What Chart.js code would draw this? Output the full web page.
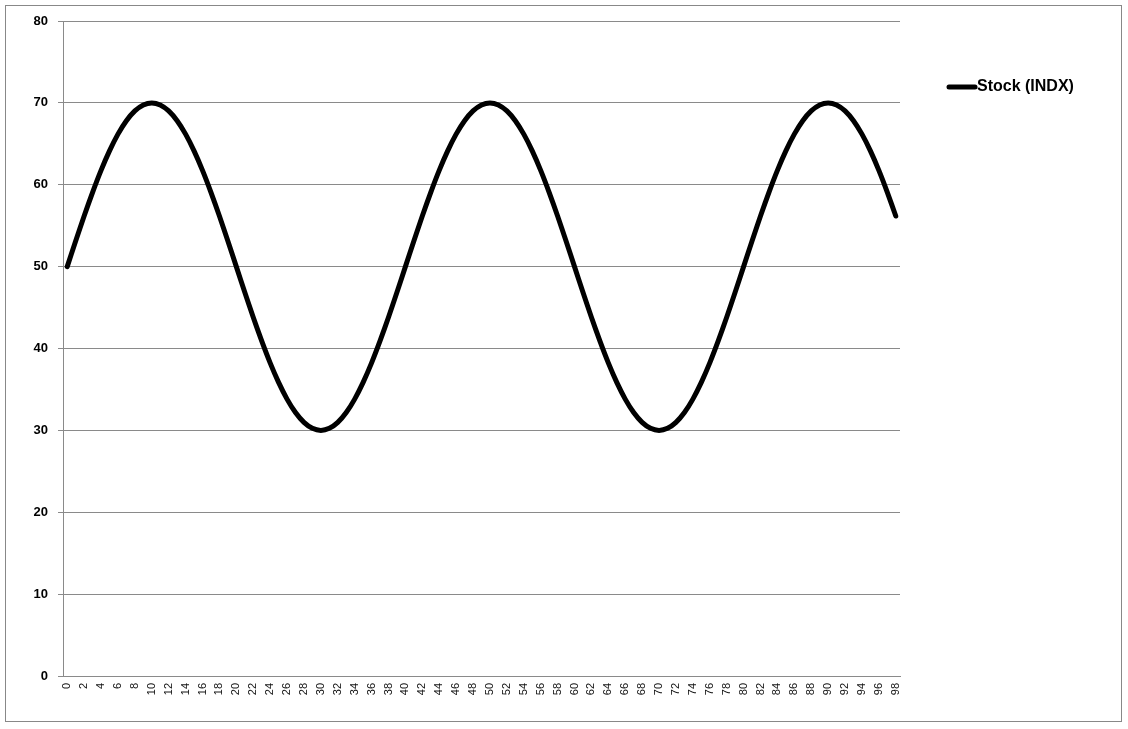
<!DOCTYPE html>
<html>
<head>
<meta charset="utf-8">
<script src="https://cdn.jsdelivr.net/npm/chart.js@4.4.1/dist/chart.umd.min.js"></script>
<style>
    body { margin: 0; background: #fff; }
    .wrap { position: relative; width: 1128px; height: 729px; }
    .frame { position: absolute; left: 5px; top: 5px; width: 1115px; height: 715px; border: 1px solid #888; pointer-events: none; }
    canvas { position: absolute; left: 0; top: 0; }
</style>
</head>
<body>
<div class="wrap">
    <canvas id="stockChart" width="1128" height="729"></canvas>
    <div class="frame"></div>
</div>
<script>
// ===== DATA ===== //
const seriesName = 'Stock (INDX)';
const days = Array.from({ length: 99 }, (_, i) => String(i));
const stockValues = [
    50, 53.13, 56.18, 59.08, 61.76, 64.14, 66.18, 67.82, 69.02, 69.75,
    70, 69.75, 69.02, 67.82, 66.18, 64.14, 61.76, 59.08, 56.18, 53.13,
    50, 46.87, 43.82, 40.92, 38.24, 35.86, 33.82, 32.18, 30.98, 30.25,
    30, 30.25, 30.98, 32.18, 33.82, 35.86, 38.24, 40.92, 43.82, 46.87,
    50, 53.13, 56.18, 59.08, 61.76, 64.14, 66.18, 67.82, 69.02, 69.75,
    70, 69.75, 69.02, 67.82, 66.18, 64.14, 61.76, 59.08, 56.18, 53.13,
    50, 46.87, 43.82, 40.92, 38.24, 35.86, 33.82, 32.18, 30.98, 30.25,
    30, 30.25, 30.98, 32.18, 33.82, 35.86, 38.24, 40.92, 43.82, 46.87,
    50, 53.13, 56.18, 59.08, 61.76, 64.14, 66.18, 67.82, 69.02, 69.75,
    70, 69.75, 69.02, 67.82, 66.18, 64.14, 61.76, 59.08, 56.18
];
const yTicks = [0, 10, 20, 30, 40, 50, 60, 70, 80];

const gridGray = '#8a8a8a';

// ===== LEGEND (right side) ===== //
const sideLegend = {
    id: 'sideLegend',
    afterDraw(chart) {
        const ctx = chart.ctx;
        ctx.save();
        ctx.strokeStyle = '#000';
        ctx.lineWidth = 5;
        ctx.lineCap = 'round';
        ctx.beginPath();
        ctx.moveTo(949, 87);
        ctx.lineTo(975, 87);
        ctx.stroke();
        ctx.fillStyle = '#000';
        ctx.font = 'bold 16px "Liberation Sans", Arial, sans-serif';
        ctx.textBaseline = 'middle';
        ctx.fillText(chart.data.datasets[0].label, 977, 87);
        ctx.restore();
    }
};

// ===== CHART ===== //
const ctx = document.getElementById('stockChart').getContext('2d');
new Chart(ctx, {
    type: 'line',
    data: {
        labels: days,
        datasets: [{
            label: seriesName,
            data: stockValues,
            borderColor: '#000',
            borderWidth: 5,
            borderCapStyle: 'round',
            borderJoinStyle: 'round',
            pointRadius: 0,
            tension: 0.2,
            fill: false
        }]
    },
    options: {
        responsive: false,
        animation: false,
        layout: { padding: { left: 0, right: 228, top: 21, bottom: 0 } },
        plugins: {
            legend: { display: false },
            tooltip: { enabled: false }
        },
        scales: {
            x: {
                offset: true,
                grid: { display: false, drawTicks: false },
                border: { display: true, color: gridGray, width: 1 },
                ticks: {
                    autoSkip: false,
                    minRotation: 90,
                    maxRotation: 90,
                    padding: 7,
                    color: '#111',
                    font: { family: '"Liberation Sans", Arial, sans-serif', size: 11 },
                    callback: (val, i) => (i % 2 === 0 ? days[i] : '')
                },
                afterFit: scale => { scale.height = 53; }
            },
            y: {
                min: 0,
                max: 80,
                afterBuildTicks: scale => { scale.ticks = yTicks.map(v => ({ value: v })); },
                grid: { color: gridGray, lineWidth: 1, tickLength: 5 },
                border: { display: true, color: gridGray, width: 1 },
                ticks: {
                    padding: 10,
                    color: '#000',
                    font: { family: '"Liberation Sans", Arial, sans-serif', size: 13, weight: 'bold' }
                },
                afterFit: scale => { scale.width = 63; }
            }
        }
    },
    plugins: [sideLegend]
});
</script>
</body>
</html>
